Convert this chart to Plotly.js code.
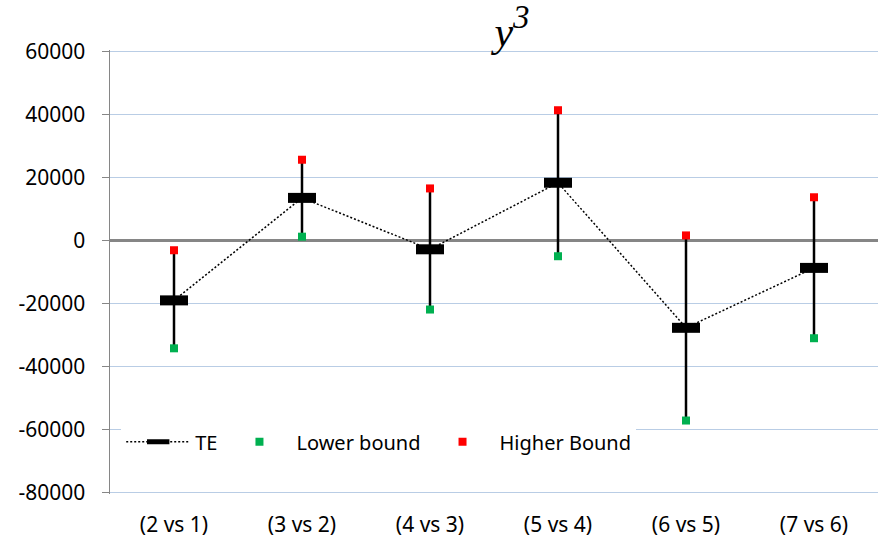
<!DOCTYPE html>
<html>
<head>
<meta charset="utf-8">
<script src="https://cdn.plot.ly/plotly-3.0.1.min.js"></script>
<style>html,body{margin:0;padding:0;background:#fff;}#chart{width:879px;height:544px;}</style>
</head>
<body>
<div id="chart"></div>
<script>
var categories = ["(2 vs 1)", "(3 vs 2)", "(4 vs 3)", "(5 vs 4)", "(6 vs 5)", "(7 vs 6)"];
var teValues = [-19000, 13500, -2800, 18300, -27700, -8700];
var lowerBound = [-34200, 1200, -21900, -5000, -57100, -31000];
var higherBound = [-3100, 25600, 16500, 41300, 1600, 13700];
var yTickVals = [-80000, -60000, -40000, -20000, 0, 20000, 40000, 60000];
var yTickText = ["-80000", "-60000", "-40000", "-20000", "0", "20000", "40000", "60000"];

var yMin = -80400, yMax = 60400;
var errPlus = teValues.map(function (v, i) { return higherBound[i] - v; });
var errMinus = teValues.map(function (v, i) { return v - lowerBound[i]; });
var boundaryTicks = categories.map(function (c, i) { return i + 0.5; });

var FONT = "'Noto Sans', 'Open Sans', sans-serif";

var traces = [
  {
    name: "TE", x: categories, y: teValues, type: "scatter", mode: "lines+markers",
    line: {color: "#000", width: 1.5, dash: "2px,2px"},
    marker: {symbol: "line-ew", size: 20, color: "#000", line: {color: "#000", width: 10}},
    error_y: {type: "data", symmetric: false, array: errPlus, arrayminus: errMinus,
              color: "#000", thickness: 2.5, width: 0}
  },
  {
    name: "Lower bound", x: categories, y: lowerBound, type: "scatter", mode: "markers",
    marker: {symbol: "square", size: 8, color: "#00b050"}
  },
  {
    name: "Higher Bound", x: categories, y: higherBound, type: "scatter", mode: "markers",
    marker: {symbol: "square", size: 8, color: "#ff0000"}
  }
];

var layout = {
  width: 879, height: 544,
  margin: {l: 110, r: 1, t: 50, b: 50},
  paper_bgcolor: "#fff", plot_bgcolor: "#fff",
  font: {family: FONT, size: 21, color: "#000"},
  title: {
    text: "<i>y<sup><span style='font-size:33px'>3</span></sup></i>",
    font: {family: "'Liberation Serif', 'Times New Roman', serif", size: 42, color: "#000"},
    xref: "container", x: 512 / 879, xanchor: "center",
    yref: "container", y: 1 - 31 / 544, yanchor: "middle"
  },
  showlegend: true,
  legend: {
    orientation: "h", x: 0.0146, xanchor: "left", y: (493 - 441) / 442, yanchor: "middle",
    bgcolor: "#fff", borderwidth: 0, itemwidth: 64,
    font: {family: FONT, size: 20, color: "#000"}
  },
  xaxis: {
    type: "category", range: [-0.5, 5.5], showgrid: false, showline: false,
    zeroline: false, ticks: "", ticklabelstandoff: 16,
    tickfont: {family: FONT, size: 21, color: "#000"}
  },
  xaxis2: {
    overlaying: "x", anchor: "free", position: (0 - yMin) / (yMax - yMin),
    range: [-0.5, 5.5], showgrid: false, showline: false, zeroline: false,
    ticks: "outside", ticklen: 6, tickwidth: 1.5, tickcolor: "#868686",
    tickmode: "array", tickvals: boundaryTicks, showticklabels: false
  },
  yaxis: {
    range: [yMin, yMax], tickmode: "array", tickvals: yTickVals, ticktext: yTickText,
    showline: true, linecolor: "#868686", linewidth: 1.5,
    ticks: "outside", ticklen: 7, tickwidth: 1.5, tickcolor: "#868686",
    showgrid: true, gridcolor: "#b9cde5", gridwidth: 1.3,
    zeroline: true, zerolinecolor: "#868686", zerolinewidth: 2.5,
    ticklabelstandoff: 12,
    tickfont: {family: FONT, size: 21, color: "#000"}
  }
};

Plotly.newPlot("chart", traces, layout, {displayModeBar: false, staticPlot: true});
</script>
</body>
</html>
